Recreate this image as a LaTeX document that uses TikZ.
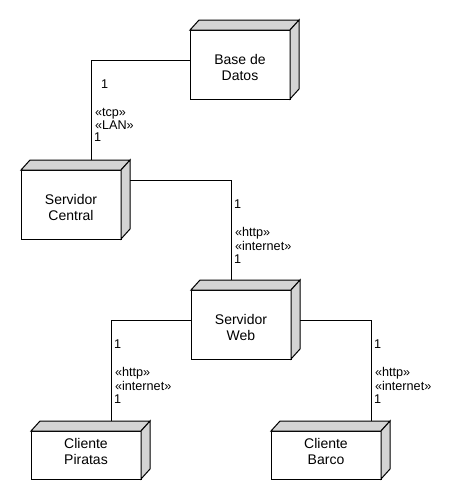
\documentclass[tikz,border=0pt]{standalone}
\usepackage{fontspec}
\setmainfont{Liberation Sans}
\usetikzlibrary{calc}
\definecolor{boxgray}{RGB}{212,212,212}
\tikzset{
  boxfront/.style={draw=black, fill=white, line width=0.75pt,
    inner sep=0pt, outer sep=0pt, font=\fontsize{10.5}{11.8}\selectfont},
  boxface/.style={draw=black, fill=boxgray, line width=0.75pt, line join=miter},
  conn/.style={draw=black, line width=0.75pt},
  lbl/.style={anchor=base west, inner sep=0pt, outer sep=0pt, font=\fontsize{9.5}{10}\selectfont},
}
\newcommand\boxtext[2]{\raisebox{#1}[0pt][0pt]{\begin{tabular}[b]{@{}c@{}}#2\end{tabular}}}
\newcommand\nodebox[5]{%
  \node[boxfront, minimum width=#3, minimum height=#4] (#1) at #2 {#5};
  \filldraw[boxface] (#1.north west) -- ([shift={(9,-10)}]#1.north west)
    -- ([shift={(9,-10)}]#1.north east) -- (#1.north east) -- cycle;
  \filldraw[boxface] (#1.north east) -- ([shift={(9,-10)}]#1.north east)
    -- ([shift={(9,-10)}]#1.south east) -- (#1.south east) -- cycle;
}
\begin{document}
\begin{tikzpicture}[x=0.75pt,y=-0.75pt]
\fill[white] (0,0) rectangle (470,500);
\useasboundingbox (0,0) rectangle (470,500);

\nodebox{bd}{(240,64.5)}{75pt}{51.75pt}{\boxtext{-12pt}{Base de\\Datos}}
\nodebox{sc}{(71,204.5)}{75pt}{51.75pt}{\boxtext{-12pt}{Servidor\\Central}}
\nodebox{sw}{(241,324.5)}{75pt}{51.75pt}{\boxtext{-12pt}{Servidor\\Web}}
\nodebox{cp}{(86,455)}{82.5pt}{36pt}{\boxtext{-6.75pt}{Cliente\\Piratas}}
\nodebox{cb}{(326,455)}{82.5pt}{36pt}{\boxtext{-6.75pt}{Cliente\\Barco}}

\draw[conn] ($(bd.west)+(0,-4)$) -| ($(sc.north)+(20,-10)$);
\draw[conn] ($(sc.east)+(9,-24)$) -| ($(sw.north)+(-10,-10)$);
\draw[conn] ($(sw.west)+(0,-4)$) -| ($(cp.north)+(25,-10)$);
\draw[conn] ($(sw.east)+(9,-4)$) -| ($(cb.north)+(45,-10)$);

% labels bd - sc (line x = 91)
\node[lbl] (a1) at (101,88) {1};
\node[lbl] (a2) at (95,116.5) {«tcp»};
\node[lbl] (a3) at (95,129) {«LAN»};
\node[lbl] (a4) at (94,141.5) {1};
% labels sc - sw (line x = 231)
\node[lbl] (b1) at (234,208) {1};
\node[lbl] (b2) at (235,236.5) {«http»};
\node[lbl] (b3) at (235,250) {«internet»};
\node[lbl] (b4) at (234,263.5) {1};
% labels sw - cp (line x = 111)
\node[lbl] (c1) at (114,348.5) {1};
\node[lbl] (c2) at (115,376.5) {«http»};
\node[lbl] (c3) at (115,390) {«internet»};
\node[lbl] (c4) at (114,403.5) {1};
% labels sw - cb (line x = 371)
\node[lbl] (d1) at (374,348.5) {1};
\node[lbl] (d2) at (375,376.5) {«http»};
\node[lbl] (d3) at (375,390) {«internet»};
\node[lbl] (d4) at (374,403.5) {1};
\end{tikzpicture}
\end{document}
